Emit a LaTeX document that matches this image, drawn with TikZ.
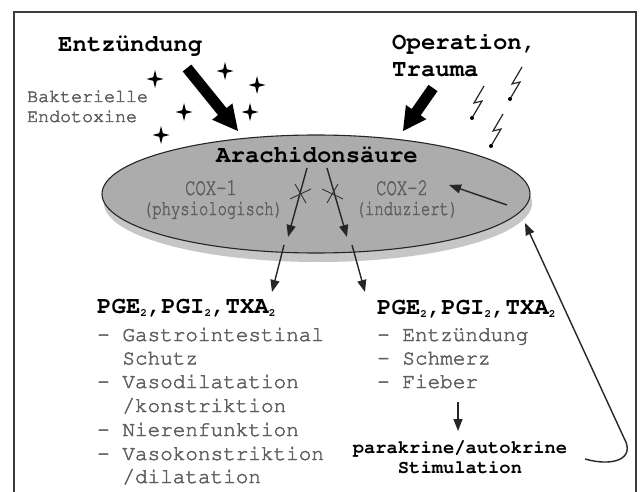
\documentclass[tikz,border=0pt]{standalone}
\usepackage[T1]{fontenc}
\usepackage{fontspec}
\usepackage{graphicx}
\usetikzlibrary{arrows.meta,calc,shapes.geometric}
\newcommand{\cour}{\fontencoding{T1}\fontfamily{pcr}\selectfont}
\newcommand{\subtwo}{\raisebox{-3.5pt}{\fontsize{11}{11}\selectfont 2}}
\newcommand{\heavy}[1]{\special{pdf:code 2 Tr 0.45 w}#1\special{pdf:code 0 Tr}}
\definecolor{txtgrey}{RGB}{95,95,95}
\definecolor{coxgrey}{RGB}{95,95,95}
\definecolor{ellfill}{RGB}{172,172,172}
\definecolor{ellshadow}{RGB}{198,198,198}
\definecolor{framecol}{RGB}{60,60,60}
\tikzset{
  title/.style={font=\cour\fontsize{24}{28}\selectfont\bfseries, inner sep=0pt, text=black},
  side/.style={font=\cour\fontsize{18.3}{22}\selectfont, inner sep=0pt, text=txtgrey},
  item/.style={font=\cour\fontsize{21}{24}\selectfont, inner sep=0pt, text=txtgrey},
  hdr/.style={font=\cour\fontsize{24}{28}\selectfont\bfseries, inner sep=0pt, text=black},
  stim/.style={font=\cour\fontsize{18.8}{22}\selectfont\bfseries, inner sep=0pt, text=black},
  cox/.style={inner sep=0pt, text=coxgrey},
  arr/.style={draw=black!85, line width=1.4pt, -{Triangle[length=12pt,width=9pt]}},
  thin/.style={draw=black!80, line width=0.9pt},
  bolt/.style={draw=black!85, line width=1.2pt, line join=miter},
  frame/.style={draw=framecol, line width=1.3pt},
}
\newcommand{\blockarrow}[5]{% tail, tip, shaft half width, head half width, head length
  \coordinate (bah) at ($(#2)!#5!(#1)$);
  \fill[black] ($(#1)!#3!90:(#2)$) -- ($(bah)!#3!90:(#2)$) -- ($(bah)!#4!90:(#2)$) -- (#2)
     -- ($(bah)!#4!-90:(#2)$) -- ($(bah)!#3!-90:(#2)$) -- ($(#1)!#3!-90:(#2)$) -- cycle;}
\begin{document}
\begin{tikzpicture}[x=1pt,y=-1pt]
\useasboundingbox (0,0) rectangle (640,492);
\fill[white] (0,0) rectangle (640,492);
\draw[frame] (14,492) -- (14,12) -- (636,12) -- (636,492);

% top texts
\node[title, anchor=base west] (entz) at (58,52) {Entz\"undung};
\node[title, anchor=base west] (op) at (392,50) {Operation,};
\node[title, anchor=base west] (tr) at (392,77) {Trauma};
\node[side, anchor=base west] (bak) at (27,102) {\heavy{Bakterielle}};
\node[side, anchor=base west] (endo) at (27,122) {\heavy{Endotoxine}};

% stars
\foreach \p in {(155,79),(225,71),(257,85),(184,112),(250,112),(161,135)}
  \fill[black, shift={\p}] (0,-9) -- (1.8,-1.8) -- (8.5,0) -- (1.8,1.8) -- (0,9)
     -- (-1.8,1.8) -- (-8.5,0) -- (-1.8,-1.8) -- cycle;

% lightning bolts
\draw[bolt] (484,86) -- (474,103) -- (482,101) -- (472,118);
\fill (472,118) circle (2);
\draw[bolt] (522,67) -- (512,84) -- (520,82) -- (510,99);
\fill (510,99) circle (2);
\draw[bolt] (503,114) -- (493,131) -- (501,129) -- (491,146);
\fill (491,146) circle (2);

% ellipse
\fill[ellshadow] (318,203) ellipse [x radius=214, y radius=59];
\node[ellipse, draw=black!85, line width=1.1pt, fill=ellfill, minimum width=428pt,
      minimum height=118pt, inner sep=0pt] (ell) at (316,194) {};

% block arrows
\coordinate (ea1) at (187,68);
\coordinate (ea2) at (238,131);
\blockarrow{ea1}{ea2}{5.5pt}{13pt}{25pt}
\coordinate (oa1) at (433,88);
\coordinate (oa2) at (403,131);
\blockarrow{oa1}{oa2}{5.5pt}{12.5pt}{23pt}

\node[title, anchor=base] (ara) at (317,163) {Arachidons\"aure};
\node[cox, anchor=base] (cox1) at (211,195) {\cour\fontsize{24}{28}\selectfont\scalebox{0.72}[1]{\heavy{COX-1}}};
\node[cox, anchor=base] (phys) at (213,215) {\cour\fontsize{21}{24}\selectfont\scalebox{0.74}[1]{\heavy{(physiologisch)}}};
\node[cox, anchor=base] (cox2) at (402,195) {\cour\fontsize{24}{28}\selectfont\scalebox{0.72}[1]{\heavy{COX-2}}};
\node[cox, anchor=base] (ind) at (407,215) {\cour\fontsize{21}{24}\selectfont\scalebox{0.74}[1]{\heavy{(induziert)}}};

% arrows from Arachidonsaeure
\coordinate (l1) at (307,168);
\coordinate (l2) at (288,237);
\coordinate (l3) at (284,245);
\coordinate (l4) at (272,292);
\coordinate (r1) at (327,168);
\coordinate (r2) at (347,237);
\coordinate (r3) at (352,245);
\coordinate (r4) at (365,292);
\draw[arr] (l1) -- (l2);
\draw[arr] (l3) -- (l4);
\draw[arr] (r1) -- (r2);
\draw[arr] (r3) -- (r4);
% crosses
\draw[thin] (290,199) -- (311,189);
\draw[thin] (295,184) -- (306,203);
\draw[thin] (343,199) -- (322,189);
\draw[thin] (338,184) -- (327,203);

% arrow to COX-2
\coordinate (c2a) at (507,205);
\coordinate (c2b) at (449,185);
\draw[arr] (c2a) -- (c2b);

% left block
\node[hdr, anchor=base west] (lh) at (97,313) {PGE\subtwo,PGI\subtwo,TXA\subtwo};
\node[item, anchor=base west] (li1) at (97,341) {\heavy{- Gastrointestinal}};
\node[item, anchor=base west] (li1b) at (122.2,364.5) {\heavy{Schutz}};
\node[item, anchor=base west] (li2) at (97,388) {\heavy{- Vasodilatation}};
\node[item, anchor=base west] (li2b) at (122.2,412) {\heavy{/konstriktion}};
\node[item, anchor=base west] (li3) at (97,436) {\heavy{- Nierenfunktion}};
\node[item, anchor=base west] (li4) at (97,460) {\heavy{- Vasokonstriktion}};
\node[item, anchor=base west] (li4b) at (122.2,483) {\heavy{/dilatation}};

% right block
\node[hdr, anchor=base west] (rh) at (377,314) {PGE\subtwo,PGI\subtwo,TXA\subtwo};
\node[item, anchor=base west] (ri1) at (377,341) {\heavy{- Entz\"undung}};
\node[item, anchor=base west] (ri2) at (377,364.5) {\heavy{- Schmerz}};
\node[item, anchor=base west] (ri3) at (377,388) {\heavy{- Fieber}};
\coordinate (d1) at (458,402);
\coordinate (d2) at (458,431);
\draw[arr] (d1) -- (d2);
\node[stim, anchor=base] (para) at (460,453) {parakrine/autokrine};
\node[stim, anchor=base] (stimu) at (460,473) {Stimulation};

% feedback loop
\coordinate (fb0) at (585,459);
\coordinate (fb1) at (624,438);
\coordinate (fb2) at (525,223);
\draw[arr] (fb0) .. controls (613,467) and (636,459) .. (fb1) -- (fb2);
\end{tikzpicture}
\end{document}
